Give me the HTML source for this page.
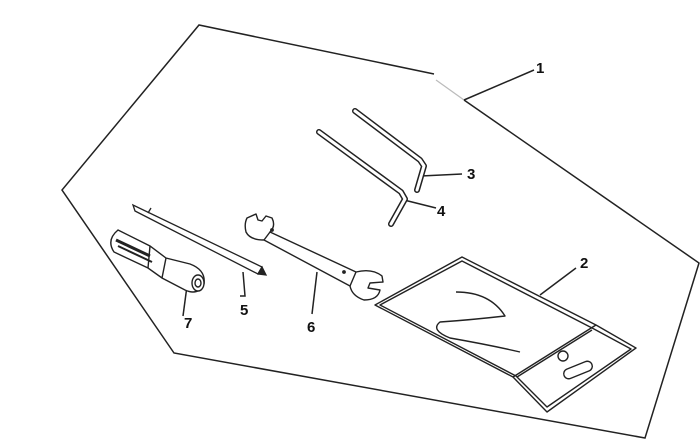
<!DOCTYPE html>
<html><head><style>
html,body{margin:0;padding:0;background:#fff;}
svg{display:block;}
text{font-family:"Liberation Sans",sans-serif;font-weight:bold;font-size:15px;fill:#111;}
</style></head><body>
<svg width="700" height="442" viewBox="0 0 700 442" xmlns="http://www.w3.org/2000/svg">
<g fill="none" stroke="#222" stroke-width="1.5">
<polyline points="434,74 199,25 62,190 174,353 645,438 699,263 464,100"/>
<line x1="436" y1="80" x2="464" y2="100" stroke="#bbb" stroke-width="1.2"/>
<line x1="464" y1="100" x2="534" y2="70"/>
<line x1="540" y1="295" x2="576" y2="268"/>
<line x1="421" y1="176" x2="462" y2="174"/>
<line x1="404" y1="200" x2="436" y2="208"/>
<polyline points="243,272 245,296 240,296"/>
<line x1="317" y1="272" x2="312" y2="314"/>
<line x1="187" y1="286" x2="183" y2="316"/>
</g>
<g fill="none" stroke-linejoin="round" stroke-linecap="round">
<polyline points="355,111 420,160 424,166 417,190" stroke="#222" stroke-width="6"/>
<polyline points="355,111 420,160 424,166 417,190" stroke="#fff" stroke-width="3"/>
<polyline points="319,132 401,192 405,199 391,224" stroke="#222" stroke-width="6"/>
<polyline points="319,132 401,192 405,199 391,224" stroke="#fff" stroke-width="3"/>
</g>
<g stroke="#222" stroke-width="1.3" fill="#fff">
<polygon points="133,205 135,211 258,274 262,267"/>
<line x1="148" y1="213" x2="151" y2="208"/>
<polygon points="258,274 266,275 262,267" fill="#222"/>
</g>
<g stroke="#222" stroke-width="1.4" fill="#fff">
<path d="M118,230 L150,246 L166,258 L190,264 Q206,270 204,284 Q198,296 185,290 L162,278 L148,268 L114,252 Q106,240 118,230 Z"/>
<line x1="116" y1="240" x2="150" y2="256" stroke-width="3"/>
<line x1="118" y1="246" x2="152" y2="262" stroke-width="2"/>
<line x1="150" y1="246" x2="148" y2="268"/>
<line x1="166" y1="258" x2="162" y2="278"/>
<ellipse cx="198" cy="283" rx="6" ry="8" fill="#fff"/>
<ellipse cx="198" cy="283" rx="3" ry="4"/>
</g>
<g stroke="#222" stroke-width="1.4" fill="#fff" stroke-linejoin="round">
<path d="M247,218 L256,214 L258,220 L262,221 L266,216 L272,218 Q276,226 270,232 L356,272 Q372,268 382,276 L383,282 L370,283 L368,288 L380,290 Q378,300 364,300 Q352,296 350,286 L264,240 Q250,240 246,232 Q244,224 247,218 Z"/>
<line x1="270" y1="232" x2="264" y2="240"/>
<line x1="356" y1="272" x2="350" y2="286"/>
<circle cx="272" cy="230" r="1.2" fill="#222"/>
<circle cx="344" cy="272" r="1.2" fill="#222"/>
</g>
<g stroke="#222" stroke-width="1.4" fill="#fff" stroke-linejoin="round">
<polygon points="375,305 462,257 596,325 636,348 547,412 513,377"/>
<polygon points="380,305 462,261 594,329 631,349 547,407 516,376" fill="none"/>
<line x1="596" y1="325" x2="513" y2="377"/>
<line x1="592" y1="330" x2="517" y2="377"/>
<circle cx="563" cy="356" r="5"/>
<rect x="563" y="365" width="30" height="10" rx="5" transform="rotate(-22 578 370)"/>
<path d="M456,292 Q490,292 505,316 Q470,320 440,322 Q430,330 450,338 Q490,345 520,352" fill="none"/>
</g>
<text x="536" y="73">1</text>
<text x="580" y="268">2</text>
<text x="467" y="179">3</text>
<text x="437" y="216">4</text>
<text x="240" y="315">5</text>
<text x="307" y="332">6</text>
<text x="184" y="328">7</text>
</svg>
</body></html>
